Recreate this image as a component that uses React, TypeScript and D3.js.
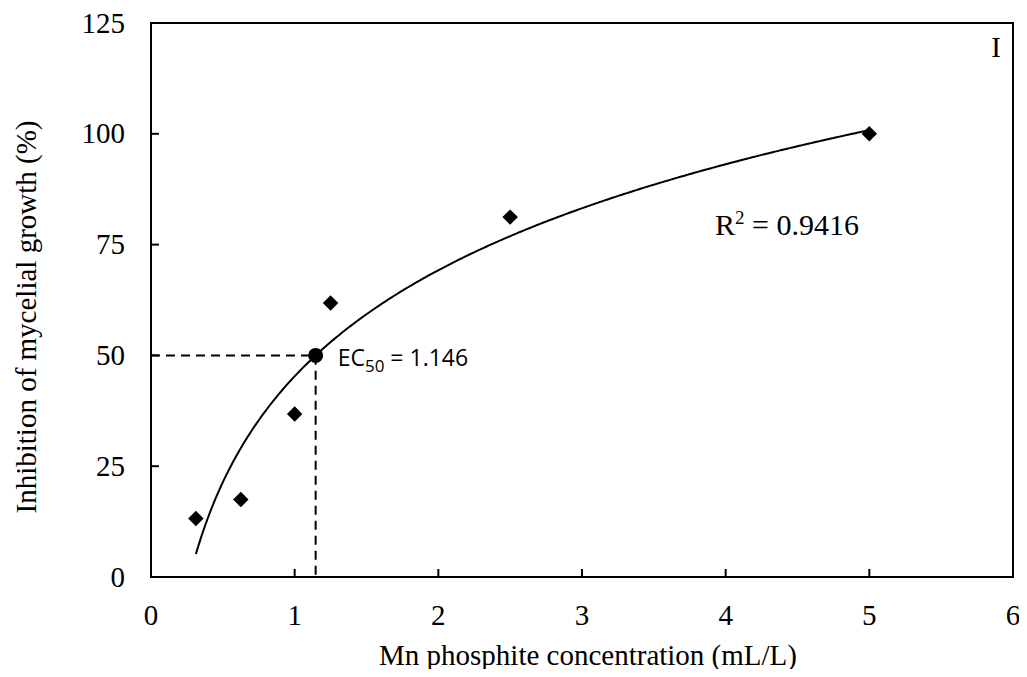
import { useEffect, useRef } from 'react';
import * as d3 from 'd3';

// measured points
const concentrations = [0.3125, 0.625, 1, 1.25, 2.5, 5];
const inhibition = [13.2, 17.5, 36.8, 61.8, 81.2, 100];

const xTicks = [0, 1, 2, 3, 4, 5, 6];
const yTicks = [0, 25, 50, 75, 100, 125];

// logarithmic trend line: y = a ln(x) + b
const fitA = 34.5;
const fitB = 45.3;
const ec50 = 1.146;
const rSquared = '0.9416';
const panelLabel = 'I';

const width = 1027;
const height = 677;
const margin = { left: 151, right: 14, top: 23, bottom: 100 };

const serif = '"Liberation Serif", "Times New Roman", serif';
const sans = '"Open Sans", "Noto Sans", sans-serif';

const App = () => {
  const svgRef = useRef<SVGSVGElement>(null);

  useEffect(() => {
    const svg = d3.select(svgRef.current);
    svg.selectAll('*').remove();

    const x = d3.scaleLinear().domain([0, 6]).range([margin.left, width - margin.right]);
    const y = d3.scaleLinear().domain([0, 125]).range([height - margin.bottom, margin.top]);

    const g = svg.append('g');

    // plot frame
    g.append('rect')
      .attr('x', x(0))
      .attr('y', y(125))
      .attr('width', x(6) - x(0))
      .attr('height', y(0) - y(125))
      .attr('fill', 'none')
      .attr('stroke', '#000')
      .attr('stroke-width', 2);

    // inward ticks
    g.selectAll('line.xt')
      .data(xTicks)
      .join('line')
      .attr('x1', d => x(d))
      .attr('x2', d => x(d))
      .attr('y1', y(0))
      .attr('y2', y(0) - 8)
      .attr('stroke', '#000')
      .attr('stroke-width', 2);

    g.selectAll('line.yt')
      .data(yTicks)
      .join('line')
      .attr('x1', x(0))
      .attr('x2', x(0) + 8)
      .attr('y1', d => y(d))
      .attr('y2', d => y(d))
      .attr('stroke', '#000')
      .attr('stroke-width', 2);

    g.selectAll('text.xl')
      .data(xTicks)
      .join('text')
      .attr('x', d => x(d))
      .attr('y', y(0) + 48)
      .attr('text-anchor', 'middle')
      .style('font-family', serif)
      .style('font-size', '29px')
      .text(d => d);

    g.selectAll('text.yl')
      .data(yTicks)
      .join('text')
      .attr('x', x(0) - 26)
      .attr('y', d => y(d) + 9.5)
      .attr('text-anchor', 'end')
      .style('font-family', serif)
      .style('font-size', '29px')
      .text(d => d);

    // axis titles
    g.append('text')
      .attr('x', 588)
      .attr('y', 665)
      .attr('text-anchor', 'middle')
      .style('font-family', serif)
      .style('font-size', '29px')
      .text('Mn phosphite concentration (mL/L)');

    g.append('text')
      .attr('transform', `translate(36, 317) rotate(-90)`)
      .attr('text-anchor', 'middle')
      .style('font-family', serif)
      .style('font-size', '29px')
      .text('Inhibition of mycelial growth (%)');

    // trend curve
    const xs = d3.range(concentrations[0], concentrations[concentrations.length - 1] + 0.0001, 0.02);
    const line = d3.line<number>()
      .x(d => x(d))
      .y(d => y(fitA * Math.log(d) + fitB))
      .curve(d3.curveMonotoneX);

    g.append('path')
      .datum(xs)
      .attr('d', line)
      .attr('fill', 'none')
      .attr('stroke', '#000')
      .attr('stroke-width', 2);

    // EC50 guide lines
    g.append('path')
      .attr('d', `M${x(0)},${y(50)}H${x(ec50)}V${y(0)}`)
      .attr('fill', 'none')
      .attr('stroke', '#000')
      .attr('stroke-width', 2)
      .attr('stroke-dasharray', '9,6');

    // data markers (diamonds)
    const diamond = d3.symbol().type(d3.symbolSquare).size(120);
    g.selectAll('path.pt')
      .data(concentrations)
      .join('path')
      .attr('transform', (d, i) => `translate(${x(d)},${y(inhibition[i])}) rotate(45)`)
      .attr('d', diamond)
      .attr('fill', '#000');

    g.append('circle')
      .attr('cx', x(ec50))
      .attr('cy', y(50))
      .attr('r', 7.5)
      .attr('fill', '#000');

    // EC50 label
    const ecText = g.append('text')
      .attr('x', x(ec50) + 22)
      .attr('y', y(50) + 11)
      .style('font-family', sans)
      .style('font-size', '23px');
    ecText.append('tspan').text('EC');
    ecText.append('tspan').attr('dy', 6).style('font-size', '17px').text('50');
    ecText.append('tspan').attr('dy', -6).text(' = 1.146');

    // R squared
    const r2 = g.append('text')
      .attr('x', 715)
      .attr('y', 235)
      .style('font-family', serif)
      .style('font-size', '30px');
    r2.append('tspan').text('R');
    r2.append('tspan').attr('dy', -11).style('font-size', '19px').text('2');
    r2.append('tspan').attr('dy', 11).text(` = ${rSquared}`);

    g.append('text')
      .attr('x', 996)
      .attr('y', 57)
      .attr('text-anchor', 'middle')
      .style('font-family', serif)
      .style('font-size', '29px')
      .text(panelLabel);
  }, []);

  return <svg ref={svgRef} width={width} height={height} style={{ display: 'block', margin: '-8px' }} />;
};

export default App;
